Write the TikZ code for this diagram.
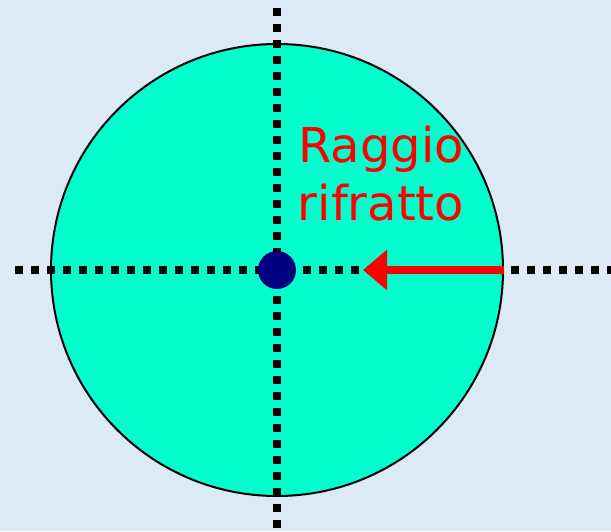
\documentclass[tikz,border=0pt]{standalone}
\usepackage{fontspec}
\usepackage{xcolor}
\usepackage{tikz}
\usetikzlibrary{positioning,arrows.meta,calc}
\newfontfamily\etichetta{DejaVu Sans}
\definecolor{sfondo}{RGB}{220,233,246}
\definecolor{acqua}{RGB}{0,255,204}
\definecolor{blunotte}{RGB}{0,0,128}

\begin{document}
\begin{tikzpicture}[x=1pt, y=-1pt,
    asse/.style={line width=7.5pt, dash pattern=on 7.5pt off 8.5pt},
    raggio/.style={red, line width=8pt, -{Triangle[length=24pt, width=39pt]}}]
    \fill[sfondo] (0,0) rectangle (611,531);
    \useasboundingbox (0,0) rectangle (611,531);
    \node[circle, draw, line width=2pt, fill=acqua, minimum size=452pt,
          inner sep=0pt] (sfera) at (277,270) {};
    \coordinate (sinistra) at (15,270);
    \coordinate (destra) at (611,270);
    \coordinate (alto) at (277,8);
    \coordinate (basso) at (277,531);
    \draw[asse] (sinistra) -- (destra);
    \draw[asse] (alto) -- (basso);
    \node[circle, fill=blunotte, minimum size=38pt, inner sep=0pt] (centro) at (277,270) {};
    \coordinate (punta) at (363,270);
    \draw[raggio] (sfera.east) -- (punta);
    \node[red, align=center, font=\etichetta\fontsize{48}{58}\selectfont] (testo) at (381,174)
      {Raggio\\rifratto};
\end{tikzpicture}
\end{document}
